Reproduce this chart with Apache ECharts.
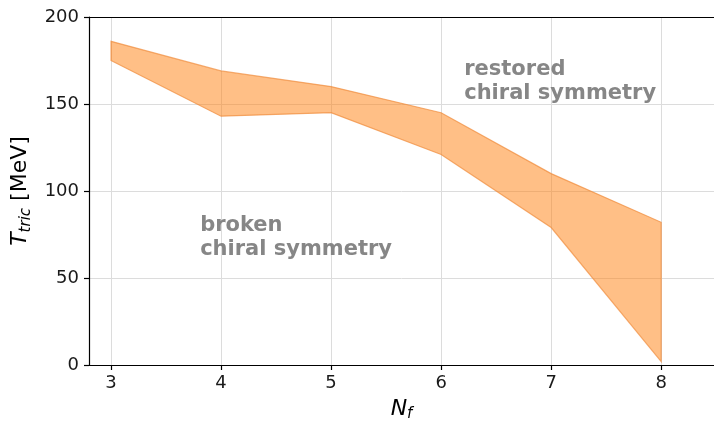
<!DOCTYPE html>
<html>
<head>
<meta charset="utf-8">
<script src="https://cdn.jsdelivr.net/npm/echarts@6/dist/echarts.min.js"></script>
<style>
  html, body { margin: 0; padding: 0; background: #fff; }
  #chart { width: 714px; height: 424px; }
</style>
</head>
<body>
<div id="chart"></div>
<script>
// Number of flavours and the band of tricritical temperatures (MeV)
const flavours = [3, 4, 5, 6, 7, 8];
const tLower = [175, 143, 145, 121, 79, 2];
const tUpper = [186, 169, 160, 145, 110, 82];
const xTicks = [3, 4, 5, 6, 7, 8];
const yTicks = [0, 50, 100, 150, 200];

const FONT = '"DejaVu Sans", sans-serif';
const chart = echarts.init(document.getElementById('chart'), null, { renderer: 'canvas' });

// polygon: lower edge left→right, then upper edge right→left
const bandPoints = flavours.map((f, i) => [f, tLower[i]])
  .concat(flavours.map((f, i) => [f, tUpper[i]]).reverse());

const titleRich = {
  i: { fontSize: 22, fontStyle: 'italic', fontFamily: FONT, color: '#000', lineHeight: 26 },
  s: { fontSize: 15, fontStyle: 'italic', fontFamily: FONT, color: '#000', lineHeight: 10, verticalAlign: 'bottom' },
  n: { fontSize: 22, fontFamily: FONT, color: '#000', lineHeight: 26 }
};

chart.setOption({
  animation: false,
  grid: { left: 89, right: 0, top: 17, bottom: 59, containLabel: false, outerBoundsMode: 'none' },
  xAxis: [{
    type: 'value', min: 2.8, max: 8.48,
    axisLine: { show: true, lineStyle: { color: '#000', width: 1.2 } },
    axisTick: { show: true, length: 5, customValues: xTicks, lineStyle: { color: '#000', width: 1.2 } },
    axisLabel: { customValues: xTicks, color: '#1a1a1a', fontSize: 18, fontFamily: FONT, margin: 9 },
    splitLine: { show: true, lineStyle: { color: '#dcdcdc', width: 1 } },
    name: '{i|N}{s|f}', nameLocation: 'middle', nameGap: 31,
    nameTextStyle: { rich: titleRich }
  }, {
    type: 'value', position: 'top', min: 2.8, max: 8.48,
    axisLine: { show: true, lineStyle: { color: '#000', width: 1.2 } },
    axisTick: { show: false }, axisLabel: { show: false }, splitLine: { show: false }
  }],
  yAxis: {
    type: 'value', min: 0, max: 200, interval: 50,
    axisLine: { show: true, lineStyle: { color: '#000', width: 1.2 } },
    axisTick: { show: true, length: 5, lineStyle: { color: '#000', width: 1.2 } },
    axisLabel: { color: '#1a1a1a', fontSize: 18, fontFamily: FONT, margin: 10,
      formatter: v => yTicks.includes(v) ? String(v) : '' },
    splitLine: { show: true, lineStyle: { color: '#dcdcdc', width: 1 } },
    name: '{i|T}{s|tric}{n| [MeV]}', nameLocation: 'middle', nameGap: 53, nameRotate: 90,
    nameTextStyle: { rich: titleRich }
  },
  series: [{
    type: 'custom',
    coordinateSystem: 'cartesian2d',
    data: [0],
    renderItem: (params, api) => ({
      type: 'polygon',
      shape: { points: bandPoints.map(p => api.coord(p)) },
      style: { fill: 'rgba(255,127,14,0.5)', stroke: 'rgba(240,140,60,0.7)', lineWidth: 1.2 }
    }),
    z: 1
  }]
});

// region annotations placed in data coordinates
const labelStyle = { fill: '#808080', font: 'bold 21px ' + FONT, lineHeight: 24, opacity: 0.95 };
const p1 = chart.convertToPixel({ gridIndex: 0 }, [6.21, 176.5]);
const p2 = chart.convertToPixel({ gridIndex: 0 }, [3.81, 87]);
chart.setOption({
  graphic: [
    { type: 'text', x: p1[0], y: p1[1], z: 0, style: Object.assign({ text: 'restored\nchiral symmetry' }, labelStyle) },
    { type: 'text', x: p2[0], y: p2[1], z: 0, style: Object.assign({ text: 'broken\nchiral symmetry' }, labelStyle) }
  ]
});
</script>
</body>
</html>
